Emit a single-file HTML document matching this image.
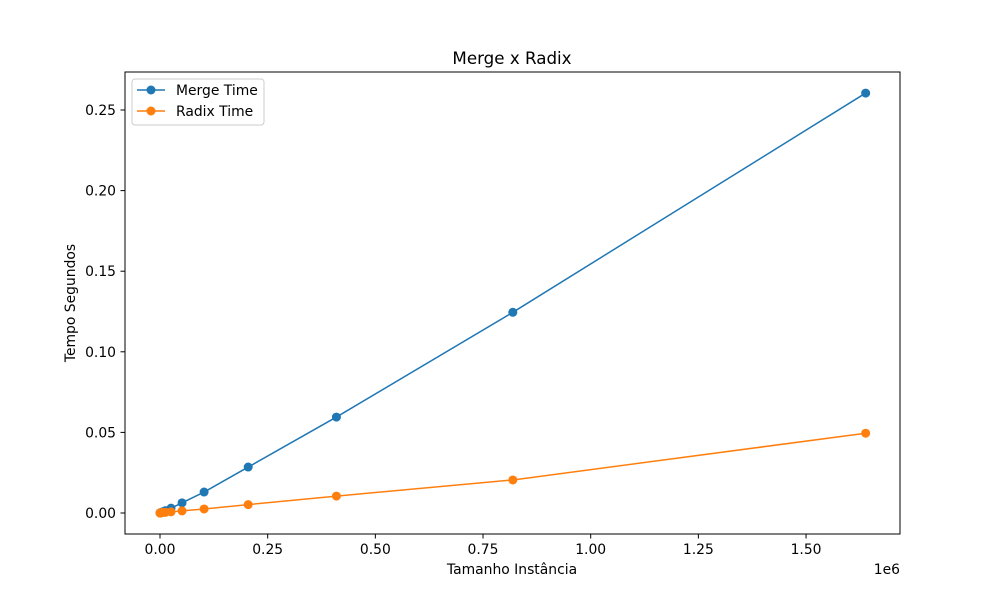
<!DOCTYPE html>
<html><head><meta charset="utf-8"><style>
body{margin:0;background:#fff;}
svg{display:block;font-family:"DejaVu Sans","Liberation Sans",sans-serif;}
</style></head><body>
<svg id="chart" width="1000" height="600">
<rect width="1000" height="600" fill="#fff"/>
<text x="512" y="64" font-size="16.7" text-anchor="middle">Merge x Radix</text>
<g id="ticks"></g>
<g id="series"></g>
<rect x="125" y="72" width="775" height="462" fill="none" stroke="#000" stroke-width="1"/>
<text x="512" y="574" font-size="13.9" text-anchor="middle">Tamanho Instância</text>
<text x="900" y="574" font-size="13.9" text-anchor="end">1e6</text>
<text transform="translate(75,303) rotate(-90)" font-size="13.9" text-anchor="middle">Tempo Segundos</text>
<g>
<rect x="132" y="79" width="132" height="46" rx="3" fill="#fff" stroke="#ccc"/>
<line x1="137" y1="90" x2="165" y2="90" stroke="#1f77b4" stroke-width="1.5"/>
<circle cx="151" cy="90" r="4.5" fill="#1f77b4"/>
<text x="176" y="95" font-size="13.9">Merge Time</text>
<line x1="137" y1="111" x2="165" y2="111" stroke="#ff7f0e" stroke-width="1.5"/>
<circle cx="151" cy="111" r="4.5" fill="#ff7f0e"/>
<text x="176" y="116" font-size="13.9">Radix Time</text>
</g>
</svg>
<script>
const sizes=[100,200,400,800,1600,3200,6400,12800,25600,51200,102400,204800,409600,819200,1638400];
const mergeTimes=[0.00001,0.00002,0.00004,0.00008,0.00016,0.0004,0.0008,0.0015,0.003,0.0063,0.013,0.0285,0.0595,0.1245,0.2605];
const radixTimes=[0.00001,0.00002,0.00003,0.00005,0.0001,0.0002,0.0003,0.0004,0.0007,0.0013,0.0025,0.0052,0.0105,0.0205,0.0495];
const xTicks=[0,0.25,0.5,0.75,1.0,1.25,1.5];
const xTickLabels=["0.00","0.25","0.50","0.75","1.00","1.25","1.50"];
const yTicks=[0,0.05,0.1,0.15,0.2,0.25];
const yTickLabels=["0.00","0.05","0.10","0.15","0.20","0.25"];
const NS="http://www.w3.org/2000/svg";
function xs(v){return 160+v*430.7e-6;}
function ys(v){return 513-v*1612;}
const tg=document.getElementById('ticks');
function mk(tag,attrs,parent){const e=document.createElementNS(NS,tag);for(const k in attrs)e.setAttribute(k,attrs[k]);parent.appendChild(e);return e;}
xTicks.forEach((t,i)=>{const x=xs(t*1e6);
const l=mk('line',{x1:x,y1:534,x2:x,y2:538.5,stroke:'#000'},tg);


const tx=mk('text',{x:x,y:554,'font-size':13.9,'text-anchor':'middle'},tg);tx.textContent=xTickLabels[i];

});
yTicks.forEach((t,i)=>{const y=ys(t);
const l=mk('line',{x1:120.5,y1:y,x2:125,y2:y,stroke:'#000'},tg);


const tx=mk('text',{x:116,y:y+5,'font-size':13.9,'text-anchor':'end'},tg);tx.textContent=yTickLabels[i];

});
const sg=document.getElementById('series');
function draw(vals,color,name){
const g=mk('g',{},sg);


const pl=mk('polyline',{points:sizes.map((s,i)=>xs(s)+','+ys(vals[i])).join(' '),fill:'none',stroke:color,'stroke-width':1.5},g);


sizes.forEach((s,i)=>{const c=mk('circle',{cx:xs(s),cy:ys(vals[i]),r:4.5,fill:color},g);

});}
draw(mergeTimes,'#1f77b4','merge');
draw(radixTimes,'#ff7f0e','radix');
</script>
</body></html>
